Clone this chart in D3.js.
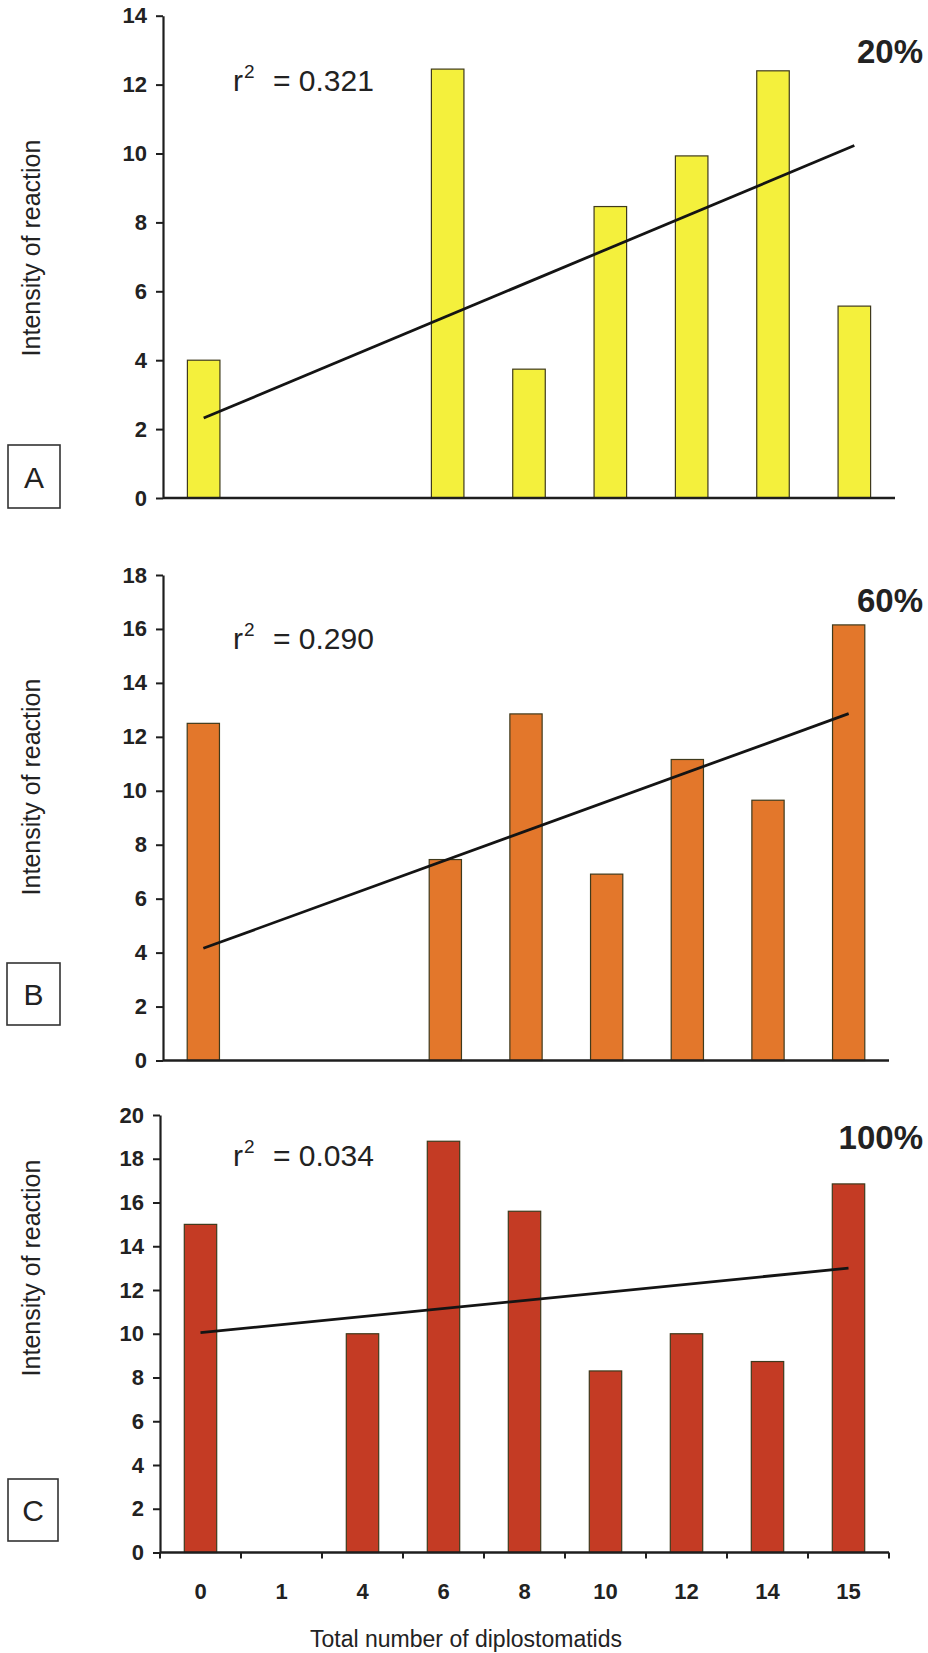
<!DOCTYPE html>
<html>
<head>
<meta charset="utf-8">
<script src="https://cdn.jsdelivr.net/npm/d3@7"></script>
<style>
  html, body { margin: 0; padding: 0; background: #ffffff; }
  svg { display: block; }
  text { font-family: Arial, "Liberation Sans", sans-serif; fill: #222; }
</style>
</head>
<body>
<svg id="chart" width="928" height="1653"></svg>
<script>
// Categories on the x axis: total number of diplostomatids
const categories = ["0", "1", "4", "6", "8", "10", "12", "14", "15"];

// Intensity of reaction per category (null = no bar)
const valuesA = [4.0, null, null, 12.45, 3.74, 8.46, 9.93, 12.4, 5.57];
const valuesB = [12.5, null, null, 7.45, 12.85, 6.91, 11.16, 9.65, 16.15];
const valuesC = [15.0, null, 10.0, 18.8, 15.6, 8.3, 10.0, 8.73, 16.85];

// Linear trend endpoints (at first and last category)
const trendA = [2.32, 10.23];
const trendB = [4.16, 12.86];
const trendC = [10.05, 13.0];

// Text labels
const r2Labels = ["0.321", "0.290", "0.034"];
const percentLabels = ["20%", "60%", "100%"];
const panelLetters = ["A", "B", "C"];
const yMaxima = [14, 18, 20];
const yTickValues = [d3.range(0, 15, 2), d3.range(0, 19, 2), d3.range(0, 21, 2)];
const yTitle = "Intensity of reaction";
const xTitle = "Total number of diplostomatids";

// Panel geometry and styles
const panels = [
  { values: valuesA, trend: trendA, fill: "#f4f03c", top: 15.7, bottom: 498, x0: 163, x1: 895,
    ylabY: 248, box: [8, 445, 52, 63], r2Y: 91, pctY: 63, showX: false },
  { values: valuesB, trend: trendB, fill: "#e3772b", top: 575, bottom: 1060.5, x0: 163, x1: 889,
    ylabY: 787, box: [7, 963, 53, 62], r2Y: 649, pctY: 612, showX: false },
  { values: valuesC, trend: trendC, fill: "#c43b24", top: 1115, bottom: 1552.5, x0: 160, x1: 889,
    ylabY: 1268, box: [8, 1479, 50, 62], r2Y: 1166, pctY: 1149, showX: true }
];

const svg = d3.select("#chart");
const axisColor = "#1e1e1e";

panels.forEach((p, i) => {
  const g = svg.append("g");

  const x = d3.scaleBand()
    .domain(categories)
    .range([p.x0, p.x1])
    .paddingInner(0.6)
    .paddingOuter(0.3);

  const y = d3.scaleLinear()
    .domain([0, yMaxima[i]])
    .range([p.bottom, p.top]);

  // bars
  const rows = categories.map((c, k) => ({ c, v: p.values[k] })).filter(d => d.v !== null);
  g.append("g").selectAll("rect")
    .data(rows)
    .join("rect")
    .attr("x", d => x(d.c))
    .attr("y", d => y(d.v))
    .attr("width", x.bandwidth())
    .attr("height", d => y(0) - y(d.v))
    .attr("fill", p.fill)
    .attr("stroke", "#3f3a1c")
    .attr("stroke-width", 1.2);

  // y axis
  const yAxis = g.append("g")
    .attr("transform", `translate(${p.x0},0)`)
    .call(d3.axisLeft(y).tickValues(yTickValues[i]).tickSize(7).tickSizeOuter(0).tickPadding(9).tickFormat(d3.format("d")));
  yAxis.select(".domain").attr("stroke", axisColor).attr("stroke-width", 2.2);
  yAxis.selectAll(".tick line").attr("stroke", axisColor).attr("stroke-width", 2);
  yAxis.selectAll(".tick text")
    .attr("font-size", 22).attr("font-weight", "bold")
    .attr("font-family", "Arial, 'Liberation Sans', sans-serif")
    .attr("fill", "#222");

  // x axis line
  g.append("line")
    .attr("x1", p.x0).attr("x2", p.x1)
    .attr("y1", y(0)).attr("y2", y(0))
    .attr("stroke", axisColor).attr("stroke-width", 2.4);

  if (p.showX) {
    const xAxis = g.append("g")
      .attr("transform", `translate(0,${y(0)})`)
      .call(d3.axisBottom(x).tickSize(0).tickPadding(31));
    xAxis.select(".domain").remove();
    xAxis.selectAll(".tick text")
      .attr("font-size", 22).attr("font-weight", "bold")
      .attr("font-family", "Arial, 'Liberation Sans', sans-serif")
      .attr("fill", "#222");
    // tick marks sit on the boundaries between categories
    const bounds = categories.map(c => x(c) - x.step() * x.paddingOuter());
    bounds.push(p.x1);
    g.append("g").selectAll("line")
      .data(bounds)
      .join("line")
      .attr("x1", d => d).attr("x2", d => d)
      .attr("y1", y(0)).attr("y2", y(0) + 6)
      .attr("stroke", axisColor).attr("stroke-width", 2);

    svg.append("text")
      .attr("x", 466).attr("y", 1647)
      .attr("text-anchor", "middle")
      .attr("font-size", 23)
      .attr("fill", "#333")
      .text(xTitle);
  }

  // trend line
  const first = categories[0], last = categories[categories.length - 1];
  g.append("line")
    .attr("x1", x(first) + x.bandwidth() / 2).attr("y1", y(p.trend[0]))
    .attr("x2", x(last) + x.bandwidth() / 2).attr("y2", y(p.trend[1]))
    .attr("stroke", "#141414").attr("stroke-width", 2.8);

  // y title
  g.append("text")
    .attr("transform", `translate(40,${p.ylabY}) rotate(-90)`)
    .attr("text-anchor", "middle")
    .attr("font-size", 25)
    .attr("fill", "#333")
    .text(yTitle);

  // panel letter box
  const [bx, by, bw, bh] = p.box;
  g.append("rect")
    .attr("x", bx).attr("y", by).attr("width", bw).attr("height", bh)
    .attr("fill", "#fff").attr("stroke", "#333").attr("stroke-width", 1.6);
  g.append("text")
    .attr("x", bx + bw / 2).attr("y", by + bh / 2 + 11)
    .attr("text-anchor", "middle")
    .attr("font-size", 30)
    .attr("fill", "#333")
    .text(panelLetters[i]);

  // r² annotation
  const r2 = g.append("text").attr("y", p.r2Y).attr("font-size", 30).attr("fill", "#222");
  r2.append("tspan").attr("x", 233).text("r");
  r2.append("tspan").attr("x", 244).attr("dy", -13).attr("font-size", 19).text("2");
  r2.append("tspan").attr("x", 273).attr("dy", 13).text("= " + r2Labels[i]);

  // percentage label
  g.append("text")
    .attr("x", 923).attr("y", p.pctY)
    .attr("text-anchor", "end")
    .attr("font-size", 33).attr("font-weight", "bold")
    .attr("fill", "#222")
    .text(percentLabels[i]);
});
</script>
</body>
</html>
